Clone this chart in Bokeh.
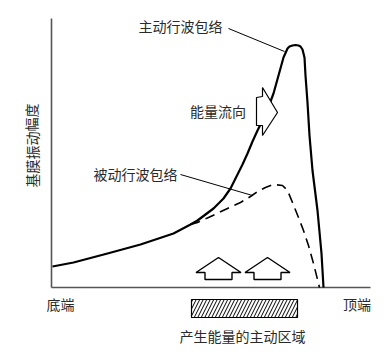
from bokeh.plotting import figure
from bokeh.models import Range1d
from bokeh.core.properties import value
from bokeh.embed import file_html
from bokeh.resources import INLINE

# ---- data (position along basilar membrane, amplitude) ----
active_x = [1, 22, 56, 89, 122, 139, 146, 154, 162, 172, 179, 184, 191, 196, 201, 206, 211, 216,
            222, 227, 232, 236, 238, 241, 244, 247, 249, 251, 253, 254, 256, 258, 261, 266, 270, 272]
active_y = [21, 25, 34, 43, 54, 63, 67, 73, 79, 89, 99, 109, 123, 134, 146, 157, 167, 178,
            194, 212, 230, 239, 241, 242, 242.5, 242, 241, 238, 230, 212, 185, 152, 117, 77, 34, 0]

passive_x = [139, 146, 157, 176, 189, 199, 206, 214, 222, 231, 236, 241, 247, 252, 257, 262, 267, 268]
passive_y = [63, 65, 70, 79, 85, 91, 96, 100, 103, 102, 97, 85, 70, 57, 42, 24, 4, 0]

axis_x_len = 319
axis_y_len = 269

active_region = [140, 246]          # 产生能量的主动区域 (position range)
up_arrow_pos = [167, 216]           # positions of the up arrows

labels = ["主动行波包络", "能量流向", "被动行波包络", "底端", "顶端", "产生能量的主动区域"]
y_label = "基膜振动幅度"

FONT = value("Noto Sans CJK SC")
TXT = "#2a2a2a"

p = figure(width=378, height=351, output_backend="svg", toolbar_location=None,
           x_range=Range1d(-51, 327), y_range=Range1d(-64, 287),
           min_border=0, min_border_left=0, min_border_right=0,
           min_border_top=0, min_border_bottom=0)
p.axis.visible = False
p.grid.visible = False
p.outline_line_color = None
p.background_fill_color = "white"
p.border_fill_color = "white"

# axes
p.line([0, 0], [0, axis_y_len], line_color="#555555", line_width=1.6)
p.line([0, axis_x_len], [0, 0], line_color="#555555", line_width=1.6)

# curves
p.line(passive_x, passive_y, line_color="black", line_width=1.6, line_dash="10 6")
p.line(active_x, active_y, line_color="black", line_width=2.2, line_join="round")

# leader lines
p.line([177, 233], [259, 236], line_color="black", line_width=1)
p.line([129, 201], [113, 92], line_color="black", line_width=1)

# energy-flow arrow (pointing right)
ax = [205, 211, 211, 226, 211, 211, 205]
ay = [190, 191, 200, 175, 152, 162, 162]
p.patch(ax, ay, fill_color="white", line_color="black", line_width=1.2)

# up arrows
for cx in up_arrow_pos:
    xs = [cx - 13.5, cx - 13.5, cx - 22.5, cx, cx + 22.5, cx + 13.5, cx + 13.5]
    ys = [8, 15, 15, 30, 15, 15, 8]
    p.patch(xs, ys, fill_color="white", line_color="black", line_width=1.4)

# hatched active region
p.quad(left=active_region[0], right=active_region[1], bottom=-30, top=-12,
       fill_color="white", line_color="black", line_width=1.2,
       hatch_pattern="/", hatch_color="black", hatch_scale=7, hatch_weight=1)

# texts
tx = [129, 166.5, 84, 9, 305.5, 191]
ty = [262, 177, 114, -16, -16, -48]
p.text(x=tx, y=ty, text=labels, text_font=FONT, text_font_size="14px",
       text_color=TXT, text_align="center", text_baseline="middle")
p.text(x=[-20], y=[142], text=[y_label], text_font=FONT, text_font_size="14px",
       text_color=TXT, text_align="center", text_baseline="middle", angle=1.5708)

open("out.html", "w").write(file_html(p, INLINE))
